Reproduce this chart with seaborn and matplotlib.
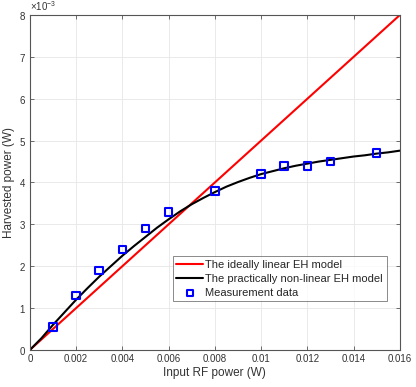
import numpy as np
import pandas as pd
import matplotlib
matplotlib.use('Agg')
import matplotlib.pyplot as plt
import seaborn as sns
from matplotlib.ticker import ScalarFormatter

# 线性模型 (两点)
linear_x = [0.0, 0.016]
linear_y = [0.0, 0.008]

# 非线性模型
nonlin_x = [0.0, 0.0005, 0.001, 0.0015, 0.002, 0.0025, 0.003, 0.0035, 0.004, 0.0045,
            0.005, 0.0055, 0.006, 0.0065, 0.007, 0.0075, 0.008, 0.0085, 0.009, 0.0095,
            0.010, 0.0105, 0.011, 0.0115, 0.012, 0.0125, 0.013, 0.0135, 0.014, 0.0145,
            0.015, 0.0155, 0.016]
nonlin_y = [0.0, 0.28, 0.60, 0.90, 1.20, 1.48, 1.75, 2.00, 2.25, 2.48,
            2.70, 2.92, 3.12, 3.31, 3.48, 3.63, 3.77, 3.90, 4.01, 4.11,
            4.20, 4.27, 4.34, 4.40, 4.45, 4.50, 4.54, 4.58, 4.62, 4.65,
            4.69, 4.72, 4.76]

# 测量数据
meas_x = [0.001, 0.002, 0.003, 0.004, 0.005, 0.006, 0.008, 0.010, 0.011, 0.012, 0.013, 0.015]
meas_y = [0.55, 1.30, 1.90, 2.40, 2.90, 3.30, 3.80, 4.20, 4.40, 4.40, 4.50, 4.70]

sns.set_theme(style='whitegrid')
plt.rcParams['font.family'] = ['Liberation Sans', 'DejaVu Sans']
plt.rcParams['mathtext.fontset'] = 'custom'
plt.rcParams['mathtext.rm'] = 'Liberation Sans'

lin_df = pd.DataFrame({'x': linear_x, 'y': linear_y})
nl_df = pd.DataFrame({'x': nonlin_x, 'y': np.array(nonlin_y) * 1e-3})
ms_df = pd.DataFrame({'x': meas_x, 'y': np.array(meas_y) * 1e-3})

fig = plt.figure(figsize=(4.16, 3.87), dpi=100)
ax = fig.add_axes([0.072, 0.096, 0.889, 0.865])

sns.lineplot(data=lin_df, x='x', y='y', ax=ax, color='#ff0000', linewidth=1.5,
             label='The ideally linear EH model')
sns.lineplot(data=nl_df, x='x', y='y', ax=ax, color='black', linewidth=1.5,
             label='The practically non-linear EH model')
sns.scatterplot(data=ms_df, x='x', y='y', ax=ax, marker='s', s=30,
                facecolor='none', edgecolor='#0000ff', linewidth=1.5,
                label='Measurement data', zorder=5)

ax.set_xlim(0, 0.016)
ax.set_ylim(0, 0.008)
ax.set_xticks(np.arange(0, 0.0161, 0.002))
ax.set_xticklabels(['0', '0.002', '0.004', '0.006', '0.008', '0.01', '0.012', '0.014', '0.016'])
ax.set_yticks(np.arange(0, 0.0081, 0.001))
fmt = ScalarFormatter(useMathText=True)
fmt.set_powerlimits((-2, 2))
ax.yaxis.set_major_formatter(fmt)
ax.yaxis.get_offset_text().set_fontsize(7)
ax.yaxis.get_offset_text().set_color('#333333')

ax.set_facecolor('white')
ax.grid(True, color='#e6e6e6', linewidth=0.6)
for s in ax.spines.values():
    s.set_color('#555555')
    s.set_linewidth(0.8)
ax.tick_params(direction='in', length=3, width=0.6, color='#555555',
               labelsize=7, labelcolor='#333333', top=True, right=True,
               bottom=True, left=True, pad=3)

ax.set_xlabel('Input RF power (W)', fontsize=8.5, color='#333333', labelpad=2)
ax.set_ylabel('Harvested power (W)', fontsize=8.5, color='#333333', labelpad=3)

leg = ax.legend(loc='lower right', bbox_to_anchor=(0.98, 0.128), fontsize=8,
                frameon=True, fancybox=False, borderpad=0.35, labelspacing=0.35,
                handlelength=2.4, handletextpad=0.2, markerscale=0.8)
leg.get_frame().set_edgecolor('#555555')
leg.get_frame().set_linewidth(0.6)

fig.savefig('out.png', dpi=100)
